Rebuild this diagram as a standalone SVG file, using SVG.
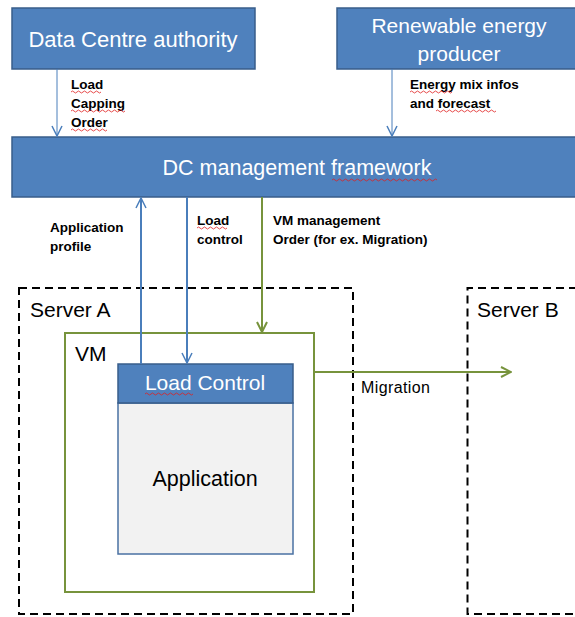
<svg xmlns="http://www.w3.org/2000/svg" width="575" height="617" viewBox="0 0 575 617">
<style>
.box{fill:#4f81bd;stroke:#385d8a;stroke-width:1.5}
.wt{font-family:"Liberation Sans",Arial,sans-serif;fill:#fff}
.lbl{font-family:"Liberation Sans",Arial,sans-serif;font-weight:bold;font-size:13.5px;fill:#000}
.srv{fill:none;stroke:#000;stroke-width:2;stroke-dasharray:8 5}
.bl{stroke:#4a7ebb;stroke-width:2;fill:none}
.gr{stroke:#77933c;stroke-width:2;fill:none}
.bl1{stroke:#4a7ebb;stroke-width:1;fill:none}
.sq{stroke:#e02020;stroke-width:0.8;fill:none}
.tx{font-family:"Liberation Sans",Arial,sans-serif;fill:#000}
</style>
<defs>
<marker id="ab" viewBox="0 0 12 12" refX="11" refY="6" markerWidth="12" markerHeight="12" markerUnits="userSpaceOnUse" orient="auto">
<path d="M1,1 L11,6 L1,11" fill="none" stroke="#4a7ebb" stroke-width="1.5"/>
</marker>
<marker id="ag" viewBox="0 0 12 12" refX="11" refY="6" markerWidth="12" markerHeight="12" markerUnits="userSpaceOnUse" orient="auto">
<path d="M1,1 L11,6 L1,11" fill="none" stroke="#77933c" stroke-width="2"/>
</marker>
</defs>
<rect width="575" height="617" fill="#fff"/>

<g id="server-a">
<rect class="srv" x="19" y="288" width="334" height="326"/>
<text class="tx" x="30" y="317" font-size="21">Server A</text>
</g>
<g id="server-b">
<path class="srv" d="M590,288 H467.5 V614 H590"/>
<text class="tx" x="477" y="317" font-size="21">Server B</text>
</g>

<g id="dca">
<rect class="box" x="12" y="8" width="243" height="61"/>
<text class="wt" x="133" y="47" font-size="22" text-anchor="middle">Data Centre authority</text>
</g>
<g id="renewable">
<rect class="box" x="337" y="8" width="250" height="61"/>
<text class="wt" x="459" y="33" font-size="21" text-anchor="middle">Renewable energy</text>
<text class="wt" x="459" y="61" font-size="21" text-anchor="middle">producer</text>
</g>
<g id="dcmf">
<rect class="box" x="12" y="137" width="575" height="60"/>
<text class="wt" x="297" y="175" font-size="21.5" text-anchor="middle">DC management framework</text>
<path class="sq" d="M332,180 q1.5,-2 3,0 t3,0 t3,0 t3,0 t3,0 t3,0 t3,0 t3,0 t3,0 t3,0 t3,0 t3,0 t3,0 t3,0 t3,0 t3,0 t3,0 t3,0 t3,0 t3,0 t3,0 t3,0 t3,0 t3,0 t3,0 t3,0 t3,0 t3,0 t3,0 t3,0 t3,0 t3,0 t3,0 t3,0 t3,0"/>
</g>

<g id="vm">
<rect x="65" y="333" width="249" height="259" fill="none" stroke="#77933c" stroke-width="2"/>
<text class="tx" x="75" y="361" font-size="21">VM</text>
</g>

<g id="app">
<rect x="118" y="403" width="175" height="151" fill="#f2f2f2" stroke="#4a71a3" stroke-width="1.5"/>
<text class="tx" x="205" y="486" font-size="21.5" text-anchor="middle">Application</text>
</g>
<g id="load-control">
<rect class="box" x="118" y="364" width="175" height="39"/>
<text class="wt" x="205" y="390" font-size="21" text-anchor="middle">Load Control</text>
<path class="sq" d="M145,394 q1.5,-2 3,0 t3,0 t3,0 t3,0 t3,0 t3,0 t3,0 t3,0 t3,0 t3,0 t3,0 t3,0 t3,0 t3,0 t3,0 t3,0"/>
</g>

<g id="connectors">
<line class="bl1" x1="57" y1="69" x2="57" y2="136" marker-end="url(#ab)"/>
<line class="bl1" x1="392" y1="69" x2="392" y2="136" marker-end="url(#ab)"/>
<line class="bl" x1="141" y1="364" x2="141" y2="198" marker-end="url(#ab)"/>
<line class="bl" x1="187" y1="197" x2="187" y2="363" marker-end="url(#ab)"/>
<line class="gr" x1="262" y1="197" x2="262" y2="332" marker-end="url(#ag)"/>
<line class="gr" x1="314" y1="372" x2="511" y2="372" marker-end="url(#ag)"/>

<text class="lbl" x="71" y="89">Load</text>
<text class="lbl" x="71" y="108">Capping</text>
<text class="lbl" x="71" y="127">Order</text>
<path class="sq" d="M71,92 q1.5,-2 3,0 t3,0 t3,0 t3,0 t3,0 t3,0 t3,0 t3,0 t3,0 t3,0"/>
<path class="sq" d="M71,111 q1.5,-2 3,0 t3,0 t3,0 t3,0 t3,0 t3,0 t3,0 t3,0 t3,0 t3,0 t3,0 t3,0 t3,0 t3,0 t3,0 t3,0 t3,0 t3,0"/>
<path class="sq" d="M71,130 q1.5,-2 3,0 t3,0 t3,0 t3,0 t3,0 t3,0 t3,0 t3,0 t3,0 t3,0 t3,0 t3,0"/>

<text class="lbl" x="410" y="89">Energy mix infos</text>
<text class="lbl" x="410" y="108">and forecast</text>
<path class="sq" d="M410,92 q1.5,-2 3,0 t3,0 t3,0 t3,0 t3,0 t3,0 t3,0 t3,0 t3,0 t3,0 t3,0 t3,0 t3,0 t3,0"/>
<path class="sq" d="M436,111 q1.5,-2 3,0 t3,0 t3,0 t3,0 t3,0 t3,0 t3,0 t3,0 t3,0 t3,0 t3,0 t3,0 t3,0 t3,0 t3,0 t3,0 t3,0 t3,0 t3,0 t3,0"/>

<text class="lbl" x="50" y="232">Application</text>
<text class="lbl" x="50" y="251">profile</text>

<text class="lbl" x="197" y="225">Load</text>
<text class="lbl" x="197" y="244">control</text>
<path class="sq" d="M197,228 q1.5,-2 3,0 t3,0 t3,0 t3,0 t3,0 t3,0 t3,0 t3,0 t3,0 t3,0"/>

<text class="lbl" x="273" y="225">VM management</text>
<text class="lbl" x="273" y="244">Order (for ex. Migration)</text>

<text class="tx" x="361" y="393" font-size="16" fill="#333" letter-spacing="0.4">Migration</text>
</g>
</svg>
